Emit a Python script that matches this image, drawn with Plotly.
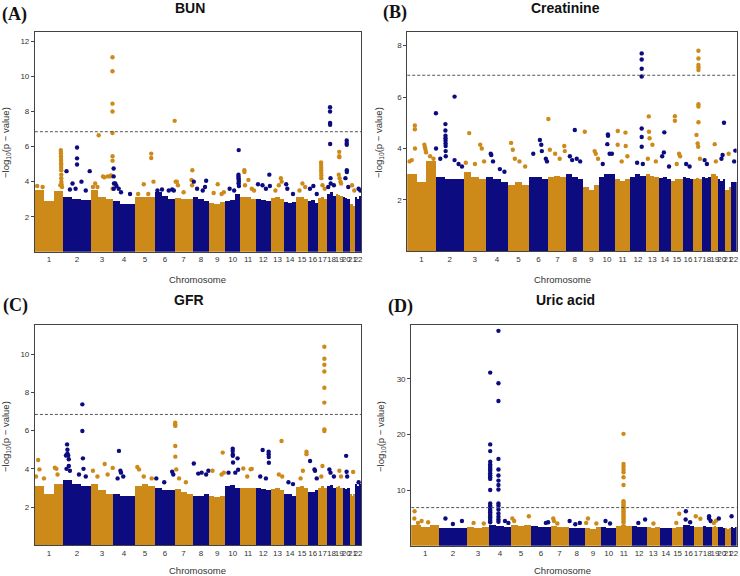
import plotly.graph_objects as go

# ---------------- data ----------------
CHROM_LEN = [249.25, 243.2, 198.0, 191.15, 180.9, 171.1, 159.1, 146.4, 141.2, 135.5, 135.0,
             133.85, 115.2, 107.35, 102.5, 90.35, 81.2, 78.1, 59.1, 63.0, 48.1, 51.3]
CHROM_LABELS = [str(i) for i in range(1, 23)]
THRESHOLD = 6.85

# dense band top (-log10 p) for each chromosome, three segments each
BAND_A = [[3.5, 2.9, 3.45], [3.15, 3.0, 2.95], [3.5, 3.1, 3.0], [2.9, 2.75, 2.7], [3.1, 3.15, 3.1],
          [3.4, 3.2, 3.0], [3.05, 3.0, 3.0], [3.1, 3.0, 2.9], [2.8, 2.7, 2.85], [2.9, 2.95, 3.3],
          [3.1, 3.15, 3.0], [3.0, 2.95, 2.9], [3.05, 3.1, 3.0], [2.85, 2.8, 2.85], [3.1, 3.15, 3.0],
          [2.9, 2.95, 2.8], [3.05, 3.1, 3.0], [3.3, 3.4, 3.2], [3.3, 3.25, 3.2], [3.1, 3.05, 3.0],
          [2.7, 2.7, 2.6], [3.1, 3.0, 3.2]]
BAND_B = [[3.0, 2.7, 3.5], [2.9, 2.8, 2.8], [3.1, 2.9, 2.8], [2.9, 2.8, 2.7], [2.6, 2.7, 2.6],
          [2.9, 2.9, 2.8], [2.9, 2.95, 2.9], [3.0, 2.9, 2.8], [2.5, 2.4, 2.6], [2.9, 3.0, 3.0],
          [2.8, 2.75, 2.8], [2.9, 3.0, 2.95], [3.0, 2.95, 2.9], [2.85, 2.9, 2.8], [2.75, 2.8, 2.8],
          [2.9, 2.85, 2.8], [2.8, 2.85, 2.8], [2.9, 2.85, 2.9], [3.0, 3.0, 2.95], [2.8, 2.75, 2.8],
          [2.4, 2.4, 2.5], [2.7, 2.7, 2.7]]
BAND_C = [[3.1, 2.7, 3.2], [3.4, 3.2, 3.1], [3.2, 2.9, 2.7], [2.7, 2.6, 2.6], [3.1, 3.2, 3.1],
          [3.0, 2.9, 2.9], [2.95, 2.8, 2.7], [2.6, 2.6, 2.7], [2.6, 2.5, 2.6], [3.1, 3.15, 3.0],
          [3.0, 3.0, 3.0], [3.0, 2.95, 2.9], [2.95, 3.0, 2.9], [2.7, 2.7, 2.6], [3.05, 3.1, 3.0],
          [2.8, 2.8, 2.9], [3.0, 3.1, 3.0], [3.1, 3.15, 3.0], [3.05, 3.1, 3.0], [3.0, 2.95, 3.0],
          [2.7, 2.6, 2.7], [3.2, 3.1, 3.2]]
BAND_D = [[3.7, 3.3, 3.7], [3.2, 3.2, 3.1], [3.3, 3.2, 3.4], [3.7, 3.5, 3.4], [3.7, 3.6, 3.7],
          [3.5, 3.4, 3.4], [3.5, 3.3, 3.4], [3.2, 3.1, 3.2], [3.2, 3.0, 3.3], [3.3, 3.2, 3.2],
          [3.6, 3.7, 3.5], [3.5, 3.4, 3.3], [3.3, 3.2, 3.3], [3.2, 3.2, 3.1], [3.2, 3.3, 3.4],
          [3.8, 3.7, 3.6], [3.3, 3.4, 3.3], [3.5, 3.4, 3.4], [3.4, 3.5, 3.4], [3.3, 3.3, 3.2],
          [3.1, 3.0, 3.1], [3.3, 3.2, 3.4]]

# individual SNPs above the dense band: (chromosome, position Mb, -log10 p)
PEAKS_A = [
    (1, 20, 3.75), (1, 68, 3.7), (1, 225, 3.8), (1, 229, 5.8), (1, 229.5, 5.7), (1, 230, 5.6),
    (1, 230.5, 5.45), (1, 231, 5.3), (1, 231, 5.2), (1, 231.5, 5.05), (1, 232, 4.95), (1, 232, 4.8),
    (1, 232.5, 4.65), (1, 233, 4.4), (1, 233, 4.2), (1, 234, 4.0), (1, 235, 3.85), (1, 240, 3.7),
    (2, 30, 4.6), (2, 60, 3.55), (2, 83, 3.9), (2, 110, 3.6), (2, 123, 5.95), (2, 123, 5.33),
    (2, 123, 4.98), (2, 162, 4.0), (2, 200, 3.5), (2, 235, 4.6),
    (3, 20, 3.7), (3, 40, 3.9), (3, 60, 3.7), (3, 71, 6.65), (3, 109, 4.3), (3, 120, 4.25),
    (3, 150, 4.3), (3, 170, 4.3), (3, 180, 4.35), (3, 193, 11.1), (3, 193, 10.3), (3, 193, 8.45),
    (3, 193, 8.0), (3, 193, 6.78), (3, 193.5, 5.45), (3, 193.5, 5.2), (3, 194, 3.6),
    (4, 5, 4.75), (4, 5, 4.3), (4, 8, 3.9), (4, 6, 3.6), (4, 20, 3.9), (4, 30, 3.75), (4, 50, 3.6),
    (4, 70, 3.4), (4, 150, 3.3),
    (5, 30, 3.3), (5, 80, 3.85), (5, 120, 3.3), (5, 146, 5.6), (5, 146, 5.35), (5, 166, 4.0),
    (6, 20, 3.5), (6, 60, 3.55), (6, 120, 3.5), (6, 150, 3.55), (6, 165, 3.5),
    (7, 1, 7.47), (7, 10, 4.0), (7, 20, 4.0), (7, 30, 3.8), (7, 80, 3.4), (7, 150, 4.1),
    (7, 155, 3.8), (7, 157, 4.65),
    (8, 11, 4.0), (8, 40, 3.6), (8, 90, 3.5), (8, 110, 3.7), (8, 120, 4.05),
    (9, 40, 3.35), (9, 76, 3.85), (9, 110, 3.3), (9, 130, 3.4),
    (10, 40, 3.6), (10, 80, 3.5), (10, 118, 4.4), (10, 118, 4.3), (10, 119, 4.2), (10, 119, 3.9),
    (10, 120, 5.8), (10, 120, 4.1), (10, 121, 4.0), (10, 122, 3.75),
    (11, 34, 4.65), (11, 35, 4.55), (11, 40, 3.8), (11, 70, 4.1), (11, 100, 3.6), (11, 120, 3.5),
    (12, 20, 3.85), (12, 60, 3.8), (12, 90, 3.6), (12, 120, 4.4), (12, 125, 3.75),
    (13, 40, 3.5), (13, 70, 3.8), (13, 88, 4.2), (13, 95, 4.0),
    (14, 20, 3.85), (14, 30, 3.6), (14, 80, 3.3),
    (15, 30, 3.5), (15, 56, 3.9), (15, 80, 3.7),
    (16, 20, 3.6), (16, 50, 3.75), (16, 80, 3.3),
    (17, 28, 5.1), (17, 28.5, 4.95), (17, 29, 4.8), (17, 29, 4.65), (17, 29.5, 4.5), (17, 30, 4.35),
    (17, 30, 4.2), (17, 40, 3.8), (17, 60, 3.6),
    (18, 10, 3.7), (18, 26, 8.25), (18, 26, 8.0), (18, 26.5, 7.35), (18, 26.5, 7.25), (18, 27, 6.15),
    (18, 30, 4.2), (18, 32, 3.9), (18, 60, 3.8),
    (19, 25, 4.4), (19, 29, 5.7), (19, 29, 5.45), (19, 30, 5.4), (19, 32, 4.2), (19, 40, 4.0),
    (19, 45, 3.9),
    (20, 25, 4.2), (20, 36, 6.35), (20, 36, 6.2), (20, 36.5, 6.1), (20, 37, 4.65), (20, 37, 4.55),
    (20, 50, 3.7),
    (21, 20, 3.8), (21, 40, 3.5),
    (22, 30, 3.6), (22, 45, 3.5),
]
PEAKS_B = [
    (1, 20, 3.5), (1, 40, 3.55), (1, 67, 4.9), (1, 67, 4.75), (1, 68, 4.0), (1, 150, 4.15),
    (1, 155, 4.05), (1, 160, 3.95), (1, 165, 3.85), (1, 200, 3.7), (1, 230, 3.6),
    (2, 2, 5.37), (2, 3, 4.0), (2, 40, 3.6), (2, 85, 4.95), (2, 85, 4.7), (2, 85.5, 4.5), (2, 86, 4.4),
    (2, 86, 4.3), (2, 86.5, 4.2), (2, 87, 4.1), (2, 87, 3.9), (2, 88, 3.7), (2, 165, 6.02),
    (2, 165, 3.55), (2, 200, 3.4), (2, 230, 3.3),
    (3, 20, 3.45), (3, 50, 4.6), (3, 100, 3.4), (3, 146, 4.15), (3, 160, 4.0), (3, 180, 3.5),
    (4, 40, 3.8), (4, 45, 3.75), (4, 60, 3.5), (4, 120, 3.2), (4, 160, 3.1),
    (5, 27, 4.22), (5, 42, 3.95), (5, 60, 3.6), (5, 100, 3.5), (5, 150, 3.3),
    (6, 40, 3.8), (6, 98, 4.33), (6, 110, 4.15), (6, 115, 3.9), (6, 150, 3.6), (6, 160, 3.5),
    (7, 1, 5.15), (7, 14, 3.95), (7, 60, 3.8), (7, 100, 3.6), (7, 140, 4.1), (7, 145, 3.9),
    (8, 30, 3.7), (8, 50, 3.55), (8, 73, 4.72), (8, 90, 3.6), (8, 120, 3.5),
    (9, 14, 4.65), (9, 100, 3.9), (9, 110, 3.8), (9, 130, 3.6),
    (10, 30, 3.4), (10, 70, 4.17), (10, 75, 4.55), (10, 76, 4.5), (10, 90, 3.8), (10, 110, 3.8),
    (11, 25, 4.15), (11, 26, 4.68), (11, 60, 3.5), (11, 93, 4.62), (11, 95, 4.1), (11, 110, 3.7),
    (12, 60, 3.45), (12, 100, 7.7), (12, 100, 7.46), (12, 100, 7.1), (12, 100, 6.8), (12, 100, 4.78),
    (12, 100, 4.45), (12, 100, 4.07), (12, 110, 3.4),
    (13, 20, 3.6), (13, 28, 5.25), (13, 30, 4.65), (13, 35, 4.4), (13, 60, 4.15), (13, 90, 3.5),
    (14, 30, 3.7), (14, 45, 3.85), (14, 49, 4.63), (14, 90, 3.3),
    (15, 34, 5.26), (15, 34, 5.08), (15, 50, 3.4), (15, 70, 3.8), (15, 80, 3.7),
    (16, 30, 3.4), (16, 60, 3.3),
    (17, 30, 4.53), (17, 40, 4.2), (17, 45, 4.07), (17, 47, 7.8), (17, 47, 7.5), (17, 47, 7.25),
    (17, 47.5, 7.15), (17, 47, 7.05), (17, 47, 5.72), (17, 47, 5.63), (17, 47, 5.02), (17, 60, 3.6),
    (18, 20, 3.55), (18, 40, 3.4),
    (19, 30, 4.17), (19, 40, 3.5),
    (20, 30, 3.6), (20, 40, 3.75), (20, 52, 5.0),
    (21, 30, 3.8),
    (22, 30, 3.5), (22, 40, 3.92),
]
PEAKS_C = [
    (1, 10, 3.6), (1, 29, 4.46), (1, 40, 3.97), (1, 80, 3.5), (1, 176, 4.06), (1, 190, 4.0),
    (1, 200, 3.7),
    (2, 25, 4.7), (2, 30, 4.0), (2, 35, 5.28), (2, 38, 5.0), (2, 38, 4.8), (2, 45, 4.7), (2, 50, 4.5),
    (2, 50, 4.15), (2, 60, 3.9), (2, 140, 3.7), (2, 170, 7.38), (2, 170, 5.98), (2, 175, 4.55),
    (2, 180, 4.0), (2, 200, 3.6),
    (3, 20, 3.9), (3, 60, 3.6), (3, 124, 4.25), (3, 150, 3.7), (3, 195, 4.05),
    (4, 40, 3.5), (4, 52, 4.94), (4, 65, 3.9), (4, 70, 3.8), (4, 90, 3.6),
    (5, 23, 4.1), (5, 38, 3.97), (5, 80, 3.6), (5, 150, 3.5),
    (6, 10, 3.5), (6, 80, 3.3), (6, 150, 3.85), (6, 160, 3.7),
    (7, 6, 6.42), (7, 6, 6.33), (7, 6.5, 6.25), (7, 6.5, 5.2), (7, 7, 4.64), (7, 15, 3.97),
    (7, 40, 3.5), (7, 100, 3.3),
    (8, 11, 4.28), (8, 50, 3.75), (8, 80, 3.8), (8, 120, 3.7), (8, 140, 3.9),
    (9, 30, 3.9), (9, 110, 3.7), (9, 120, 4.85), (9, 130, 3.8),
    (10, 30, 3.8), (10, 67, 5.05), (10, 67, 4.93), (10, 68, 4.75), (10, 68, 4.68), (10, 70, 4.33),
    (10, 90, 3.8), (10, 110, 4.55), (10, 115, 3.95),
    (11, 25, 4.02), (11, 60, 3.6), (11, 90, 3.98), (11, 100, 4.0),
    (12, 40, 3.6), (12, 61, 4.99), (12, 90, 3.5), (12, 114, 4.9), (12, 114, 4.77), (12, 115, 4.62),
    (12, 116, 4.32),
    (13, 70, 3.7), (13, 94, 5.46), (13, 100, 3.6),
    (14, 40, 3.3), (14, 80, 3.2),
    (15, 40, 3.5), (15, 60, 3.9), (15, 92, 4.9), (15, 92, 4.77),
    (16, 21, 4.41), (16, 60, 3.97), (16, 65, 3.9), (16, 80, 3.5),
    (17, 30, 3.6), (17, 40, 4.15), (17, 57, 10.4), (17, 57, 9.77), (17, 57, 9.45), (17, 57, 9.1),
    (17, 57, 8.25), (17, 57, 7.47), (17, 57, 6.07), (17, 57, 5.98),
    (18, 20, 3.97), (18, 30, 3.8), (18, 60, 3.6),
    (19, 30, 3.9), (19, 45, 3.6),
    (20, 31, 4.68), (20, 35, 3.85), (20, 40, 3.6),
    (21, 30, 3.84),
    (22, 30, 3.3),
]
PEAKS_D = [
    (1, 28, 4.9), (1, 30, 6.2), (1, 60, 4.1), (1, 92, 4.45), (1, 150, 4.2),
    (2, 54, 4.9), (2, 120, 3.9), (2, 200, 4.45),
    (3, 60, 4.1), (3, 150, 4.0),
    (4, 9, 31.1), (4, 9, 18.2), (4, 9, 17.0), (4, 9, 15.1), (4, 9, 14.6), (4, 9, 14.3), (4, 9, 14.0),
    (4, 9, 13.7), (4, 9, 13.4), (4, 9, 13.0), (4, 9, 12.6), (4, 9, 12.3), (4, 9, 12.0), (4, 9, 10.0),
    (4, 9, 7.6), (4, 9, 7.2), (4, 9, 6.9), (4, 9, 6.6), (4, 9, 6.3), (4, 9, 6.0), (4, 9, 5.7),
    (4, 9, 5.4), (4, 9, 5.1), (4, 9, 4.8), (4, 9, 4.5), (4, 9, 4.2),
    (4, 82, 38.6), (4, 82, 29.2), (4, 82, 26.0), (4, 82, 15.6), (4, 82, 13.7), (4, 82, 12.6),
    (4, 82, 11.7), (4, 82, 10.9), (4, 82, 10.1), (4, 82, 7.6), (4, 82, 7.2), (4, 82, 6.5),
    (4, 82, 5.8), (4, 82, 5.2), (4, 82, 4.7), (4, 82, 4.3), (4, 140, 4.45), (4, 170, 4.1),
    (5, 14, 4.9), (5, 30, 4.45), (5, 160, 5.3),
    (6, 130, 4.1), (6, 150, 4.2),
    (7, 24, 4.9), (7, 30, 4.45), (7, 60, 4.0),
    (8, 10, 4.45), (8, 60, 3.85), (8, 100, 4.1),
    (9, 10, 4.1), (9, 26, 4.9), (9, 100, 4.0),
    (10, 40, 4.45), (10, 80, 4.0),
    (11, 64, 20.1), (11, 64, 14.7), (11, 64, 14.2), (11, 64, 13.7), (11, 64, 13.2), (11, 64, 12.3),
    (11, 64, 10.9), (11, 64, 8.0), (11, 64, 7.7), (11, 64, 7.4), (11, 64, 7.1), (11, 64, 6.8),
    (11, 64, 6.5), (11, 64, 6.2), (11, 64, 5.9), (11, 64, 5.6), (11, 64, 5.3), (11, 64, 5.0),
    (11, 64, 4.7), (11, 64, 4.4), (11, 64, 4.1),
    (12, 60, 4.1), (12, 120, 4.7),
    (13, 60, 4.0),
    (15, 40, 4.1), (15, 66, 5.75),
    (16, 20, 4.7), (16, 22, 6.2), (16, 60, 4.2),
    (17, 19, 5.3), (17, 60, 4.85),
    (18, 56, 5.3), (18, 56, 4.9), (18, 70, 4.45),
    (19, 20, 4.1), (19, 40, 4.5),
    (20, 5, 4.9),
    (22, 7, 5.3),
]

# ---------------- styling / layout ----------------
W, H = 740, 576
ORANGE = "#CD8A18"
NAVY = "#0C0C80"
FONT = "Liberation Sans, Arial, sans-serif"

starts = []
acc = 0.0
for L in CHROM_LEN:
    starts.append(acc)
    acc += L
GENOME = acc
mids = [s + L / 2 for s, L in zip(starts, CHROM_LEN)]


def col(ch):
    return ORANGE if ch % 2 == 1 else NAVY


def px(x):
    return x / W


def py(y):
    return 1 - y / H


PANELS = [
    dict(tag="(A)", title="BUN", band=BAND_A, peaks=PEAKS_A, box=(35, 32.3, 362, 251.8),
         ymax=12.52, yt=[2, 4, 6, 8, 10, 12], title_xy=(191, 8), tag_xy=(15, 14),
         xl_xy=(198, 279), yl_xy=(6, 142)),
    dict(tag="(B)", title="Creatinine", band=BAND_B, peaks=PEAKS_B, box=(408.3, 32.3, 738.6, 251.4),
         ymax=8.52, yt=[2, 4, 6, 8], title_xy=(567, 8), tag_xy=(396, 12),
         xl_xy=(564, 279), yl_xy=(380, 142)),
    dict(tag="(C)", title="GFR", band=BAND_C, peaks=PEAKS_C, box=(35, 325.3, 362, 545.2),
         ymax=11.52, yt=[2, 4, 6, 8, 10], title_xy=(190, 300), tag_xy=(16, 305),
         xl_xy=(198, 570), yl_xy=(6, 436)),
    dict(tag="(D)", title="Uric acid", band=BAND_D, peaks=PEAKS_D, box=(412.3, 325.3, 738.6, 545.7),
         ymax=39.6, yt=[10, 20, 30], title_xy=(567, 300), tag_xy=(402, 306),
         xl_xy=(564, 570), yl_xy=(382, 436)),
]

fig = go.Figure()
annotations = []
layout_axes = {}

for i, p in enumerate(PANELS, start=1):
    xa = "x" if i == 1 else f"x{i}"
    ya = "y" if i == 1 else f"y{i}"
    # dense band
    bx, by, bw, bc = [], [], [], []
    for ch, segs in enumerate(p["band"], start=1):
        n = len(segs)
        L = CHROM_LEN[ch - 1]
        for k, v in enumerate(segs):
            bx.append(starts[ch - 1] + (k + 0.5) * L / n)
            by.append(v)
            bw.append(L / n)
            bc.append(col(ch))
    fig.add_trace(go.Bar(x=bx, y=by, width=bw, marker=dict(color=bc, line=dict(width=0)),
                         xaxis=xa, yaxis=ya, showlegend=False, hoverinfo="skip"))
    # individual SNPs
    sx = [starts[c - 1] + m for c, m, v in p["peaks"]]
    sy = [v for c, m, v in p["peaks"]]
    sc = [col(c) for c, m, v in p["peaks"]]
    fig.add_trace(go.Scatter(x=sx, y=sy, mode="markers",
                             marker=dict(color=sc, size=4.4, line=dict(width=0)),
                             xaxis=xa, yaxis=ya, showlegend=False, hoverinfo="skip"))
    # genome-wide threshold
    fig.add_trace(go.Scatter(x=[0, GENOME], y=[THRESHOLD, THRESHOLD], mode="lines",
                             line=dict(color="#555555", width=1, dash="3px,2px"),
                             xaxis=xa, yaxis=ya, showlegend=False, hoverinfo="skip"))

    x0, y0, x1, y1 = p["box"]
    sfx = "" if i == 1 else str(i)
    layout_axes[f"xaxis{sfx}"] = dict(
        domain=[px(x0), px(x1)], range=[0, GENOME], anchor=ya, showgrid=False, zeroline=False,
        showline=True, mirror=True, linecolor="#444444", linewidth=1,
        tickmode="array", tickvals=mids, ticktext=CHROM_LABELS, ticks="", tickangle=0,
        tickfont=dict(family=FONT, size=8, color="#333333"), fixedrange=True)
    layout_axes[f"yaxis{sfx}"] = dict(
        domain=[py(y1), py(y0)], range=[0, p["ymax"]], anchor=xa, showgrid=False, zeroline=False,
        showline=True, mirror=True, linecolor="#444444", linewidth=1,
        tickmode="array", tickvals=p["yt"], ticks="outside", ticklen=3, tickcolor="#444444",
        tickfont=dict(family=FONT, size=8, color="#333333"), fixedrange=True)

    annotations += [
        dict(x=px(p["title_xy"][0]), y=py(p["title_xy"][1]), xref="paper", yref="paper",
             text=f"<b>{p['title']}</b>", showarrow=False, xanchor="center", yanchor="middle",
             font=dict(family=FONT, size=14, color="#111111")),
        dict(x=px(p["tag_xy"][0]), y=py(p["tag_xy"][1]), xref="paper", yref="paper",
             text=f"<b>{p['tag']}</b>", showarrow=False, xanchor="center", yanchor="middle",
             font=dict(family="Liberation Serif, Times New Roman, serif", size=18, color="#111111")),
        dict(x=px(p["xl_xy"][0]), y=py(p["xl_xy"][1]), xref="paper", yref="paper",
             text="Chromosome", showarrow=False, xanchor="center", yanchor="middle",
             font=dict(family=FONT, size=9.5, color="#333333")),
        dict(x=px(p["yl_xy"][0]), y=py(p["yl_xy"][1]), xref="paper", yref="paper",
             text="\u2212log<sub>10</sub>(p \u2212 value)", showarrow=False, textangle=-90,
             xanchor="center", yanchor="middle",
             font=dict(family=FONT, size=9.5, color="#333333")),
    ]

fig.update_layout(
    width=W, height=H, margin=dict(l=0, r=0, t=0, b=0),
    paper_bgcolor="white", plot_bgcolor="white", barmode="overlay", bargap=0,
    showlegend=False, annotations=annotations, **layout_axes)

fig.write_html("out.html", config={"displayModeBar": False, "staticPlot": True},
               post_script="document.body.style.margin='0';document.body.style.padding='0';"
                           "document.body.style.overflow='hidden';")
